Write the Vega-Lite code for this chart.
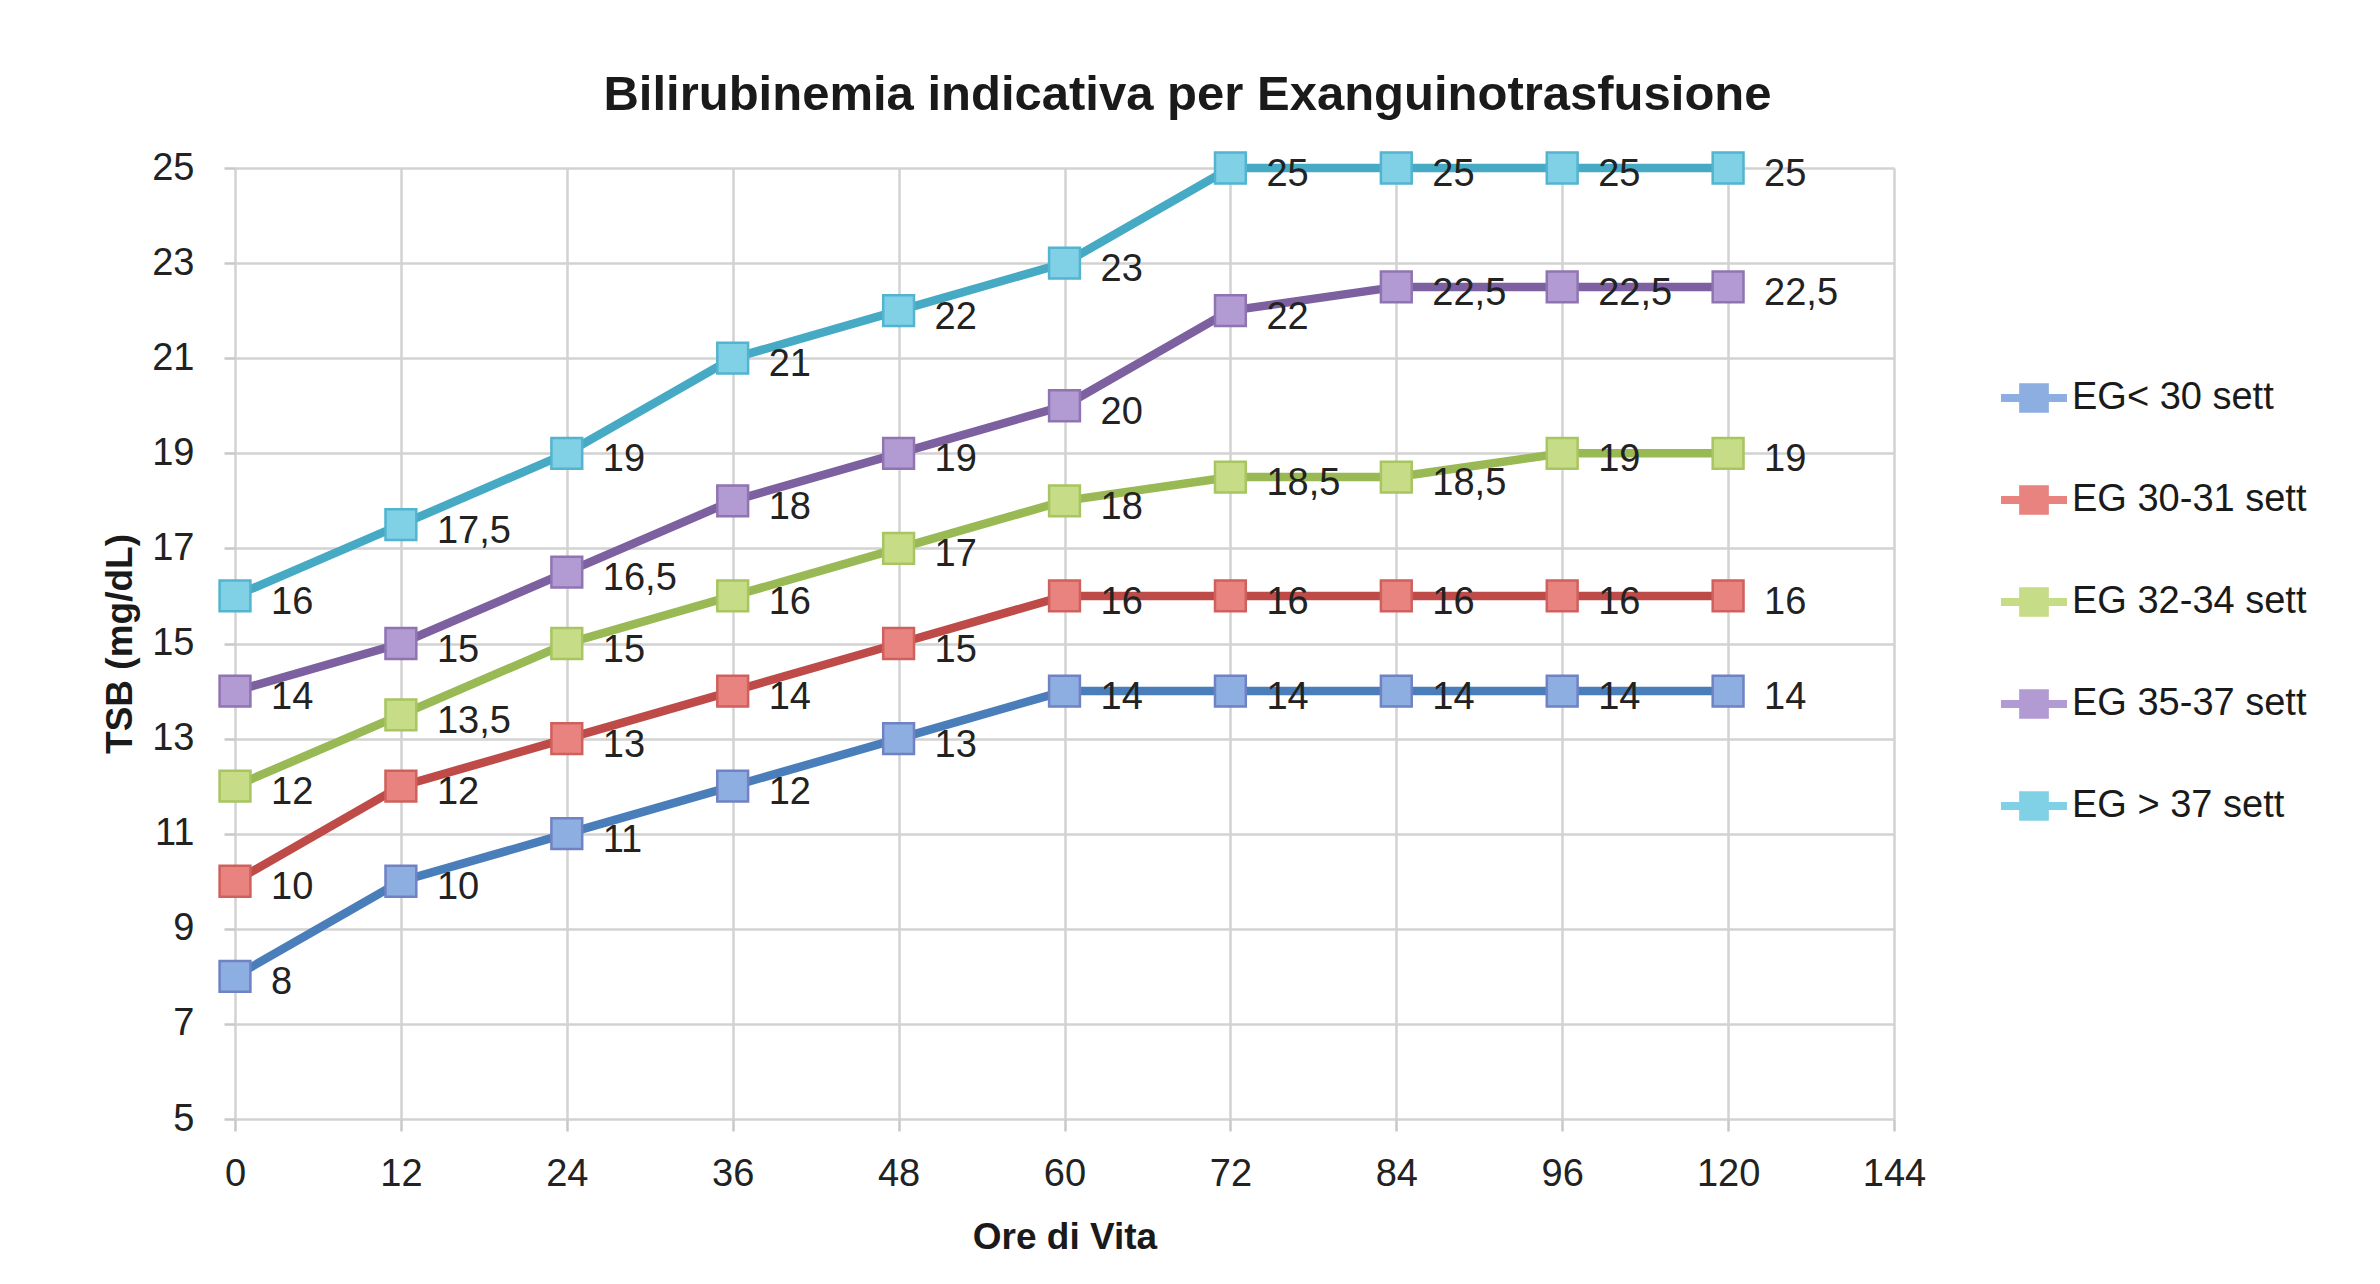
{
  "$schema": "https://vega.github.io/schema/vega-lite/v6.json",
  "width": 1659,
  "height": 951,
  "autosize": {"type": "none"},
  "padding": {"left": 235, "top": 168, "right": 486, "bottom": 165},
  "background": "white",
  "config": {
    "font": "Liberation Sans",
    "view": {"stroke": null},
    "locale": {"number": {"decimal": ",", "thousands": ".", "grouping": [3], "currency": ["€", ""]}}
  },
  "title": {
    "text": "Bilirubinemia indicativa per Exanguinotrasfusione",
    "fontSize": 49,
    "fontWeight": "bold",
    "color": "#1a1a1a",
    "anchor": "middle",
    "dx": 123,
    "offset": 28
  },
  "data": {
    "values": [
      {"ore": 0, "tsb": 8, "serie": "EG< 30 sett"},
      {"ore": 12, "tsb": 10, "serie": "EG< 30 sett"},
      {"ore": 24, "tsb": 11, "serie": "EG< 30 sett"},
      {"ore": 36, "tsb": 12, "serie": "EG< 30 sett"},
      {"ore": 48, "tsb": 13, "serie": "EG< 30 sett"},
      {"ore": 60, "tsb": 14, "serie": "EG< 30 sett"},
      {"ore": 72, "tsb": 14, "serie": "EG< 30 sett"},
      {"ore": 84, "tsb": 14, "serie": "EG< 30 sett"},
      {"ore": 96, "tsb": 14, "serie": "EG< 30 sett"},
      {"ore": 120, "tsb": 14, "serie": "EG< 30 sett"},
      {"ore": 0, "tsb": 10, "serie": "EG 30-31 sett"},
      {"ore": 12, "tsb": 12, "serie": "EG 30-31 sett"},
      {"ore": 24, "tsb": 13, "serie": "EG 30-31 sett"},
      {"ore": 36, "tsb": 14, "serie": "EG 30-31 sett"},
      {"ore": 48, "tsb": 15, "serie": "EG 30-31 sett"},
      {"ore": 60, "tsb": 16, "serie": "EG 30-31 sett"},
      {"ore": 72, "tsb": 16, "serie": "EG 30-31 sett"},
      {"ore": 84, "tsb": 16, "serie": "EG 30-31 sett"},
      {"ore": 96, "tsb": 16, "serie": "EG 30-31 sett"},
      {"ore": 120, "tsb": 16, "serie": "EG 30-31 sett"},
      {"ore": 0, "tsb": 12, "serie": "EG 32-34 sett"},
      {"ore": 12, "tsb": 13.5, "serie": "EG 32-34 sett"},
      {"ore": 24, "tsb": 15, "serie": "EG 32-34 sett"},
      {"ore": 36, "tsb": 16, "serie": "EG 32-34 sett"},
      {"ore": 48, "tsb": 17, "serie": "EG 32-34 sett"},
      {"ore": 60, "tsb": 18, "serie": "EG 32-34 sett"},
      {"ore": 72, "tsb": 18.5, "serie": "EG 32-34 sett"},
      {"ore": 84, "tsb": 18.5, "serie": "EG 32-34 sett"},
      {"ore": 96, "tsb": 19, "serie": "EG 32-34 sett"},
      {"ore": 120, "tsb": 19, "serie": "EG 32-34 sett"},
      {"ore": 0, "tsb": 14, "serie": "EG 35-37 sett"},
      {"ore": 12, "tsb": 15, "serie": "EG 35-37 sett"},
      {"ore": 24, "tsb": 16.5, "serie": "EG 35-37 sett"},
      {"ore": 36, "tsb": 18, "serie": "EG 35-37 sett"},
      {"ore": 48, "tsb": 19, "serie": "EG 35-37 sett"},
      {"ore": 60, "tsb": 20, "serie": "EG 35-37 sett"},
      {"ore": 72, "tsb": 22, "serie": "EG 35-37 sett"},
      {"ore": 84, "tsb": 22.5, "serie": "EG 35-37 sett"},
      {"ore": 96, "tsb": 22.5, "serie": "EG 35-37 sett"},
      {"ore": 120, "tsb": 22.5, "serie": "EG 35-37 sett"},
      {"ore": 0, "tsb": 16, "serie": "EG > 37 sett"},
      {"ore": 12, "tsb": 17.5, "serie": "EG > 37 sett"},
      {"ore": 24, "tsb": 19, "serie": "EG > 37 sett"},
      {"ore": 36, "tsb": 21, "serie": "EG > 37 sett"},
      {"ore": 48, "tsb": 22, "serie": "EG > 37 sett"},
      {"ore": 60, "tsb": 23, "serie": "EG > 37 sett"},
      {"ore": 72, "tsb": 25, "serie": "EG > 37 sett"},
      {"ore": 84, "tsb": 25, "serie": "EG > 37 sett"},
      {"ore": 96, "tsb": 25, "serie": "EG > 37 sett"},
      {"ore": 120, "tsb": 25, "serie": "EG > 37 sett"}
    ]
  },
  "encoding": {
    "x": {
      "field": "ore",
      "type": "ordinal",
      "scale": {"type": "point", "padding": 0, "domain": [0, 12, 24, 36, 48, 60, 72, 84, 96, 120, 144]},
      "axis": {
        "title": "Ore di Vita",
        "titleFontSize": 37,
        "titleFontWeight": "bold",
        "titleColor": "#1a1a1a",
        "titlePadding": 26,
        "labelFontSize": 38,
        "labelColor": "#222222",
        "labelAngle": 0,
        "labelPadding": 24,
        "tickSize": 12,
        "tickColor": "#c8c8c8",
        "tickWidth": 2.5,
        "domain": false,
        "grid": true,
        "gridColor": "#d2d2d2",
        "gridWidth": 2.5
      }
    },
    "y": {
      "field": "tsb",
      "type": "quantitative",
      "scale": {"domain": [5, 25], "nice": false, "zero": false},
      "axis": {
        "title": "TSB (mg/dL)",
        "titleFontSize": 37,
        "titleFontWeight": "bold",
        "titleColor": "#1a1a1a",
        "titlePadding": 12,
        "values": [5, 7, 9, 11, 13, 15, 17, 19, 21, 23, 25],
        "labelFontSize": 38,
        "labelColor": "#222222",
        "labelPadding": 30,
        "tickSize": 11,
        "tickColor": "#c8c8c8",
        "tickWidth": 2.5,
        "domain": false,
        "grid": true,
        "gridColor": "#d2d2d2",
        "gridWidth": 2.5
      }
    }
  },
  "layer": [
    {
      "mark": {"type": "line", "strokeWidth": 8.5},
      "encoding": {
        "color": {
          "field": "serie",
          "type": "nominal",
          "scale": {
            "domain": ["EG< 30 sett", "EG 30-31 sett", "EG 32-34 sett", "EG 35-37 sett", "EG > 37 sett"],
            "range": ["#4A7EBB", "#BE4B48", "#98B954", "#7D60A0", "#46AAC5"]
          },
          "legend": {
            "title": null,
            "orient": "none",
            "legendX": 1766,
            "legendY": 197,
            "padding": 0,
            "symbolType": "M-1,-0.12L-0.45,-0.12L-0.45,-0.45L0.45,-0.45L0.45,-0.12L1,-0.12L1,0.12L0.45,0.12L0.45,0.45L-0.45,0.45L-0.45,0.12L-1,0.12Z",
            "symbolSize": 4356,
            "symbolStrokeWidth": 0,
            "labelFontSize": 38,
            "labelColor": "#1a1a1a",
            "labelOffset": 5,
            "rowPadding": 50,
            "labelLimit": 400,
            "encode": {
              "symbols": {
                "update": {
                  "fill": {"scale": "color", "field": "value"},
                  "stroke": {"value": "transparent"}
                }
              }
            }
          }
        },
        "order": {"field": "ore", "type": "quantitative"}
      }
    },
    {
      "mark": {"type": "point", "shape": "square", "filled": false, "size": 950, "strokeWidth": 2.5, "opacity": 1},
      "encoding": {
        "fill": {
          "field": "serie",
          "type": "nominal",
          "scale": {
            "domain": ["EG< 30 sett", "EG 30-31 sett", "EG 32-34 sett", "EG 35-37 sett", "EG > 37 sett"],
            "range": ["#8DAEE0", "#E8837F", "#C6DC86", "#B19BD2", "#80D0E6"]
          },
          "legend": null
        },
        "stroke": {
          "field": "serie",
          "type": "nominal",
          "scale": {
            "domain": ["EG< 30 sett", "EG 30-31 sett", "EG 32-34 sett", "EG 35-37 sett", "EG > 37 sett"],
            "range": ["#7082C4", "#D0605C", "#A7C560", "#9074B2", "#52B4CF"]
          },
          "legend": null
        }
      }
    },
    {
      "mark": {"type": "text", "align": "left", "baseline": "middle", "dx": 36, "dy": 7, "fontSize": 38, "color": "#222222"},
      "encoding": {
        "text": {"field": "tsb", "type": "quantitative", "format": "~g"}
      }
    }
  ]
}
